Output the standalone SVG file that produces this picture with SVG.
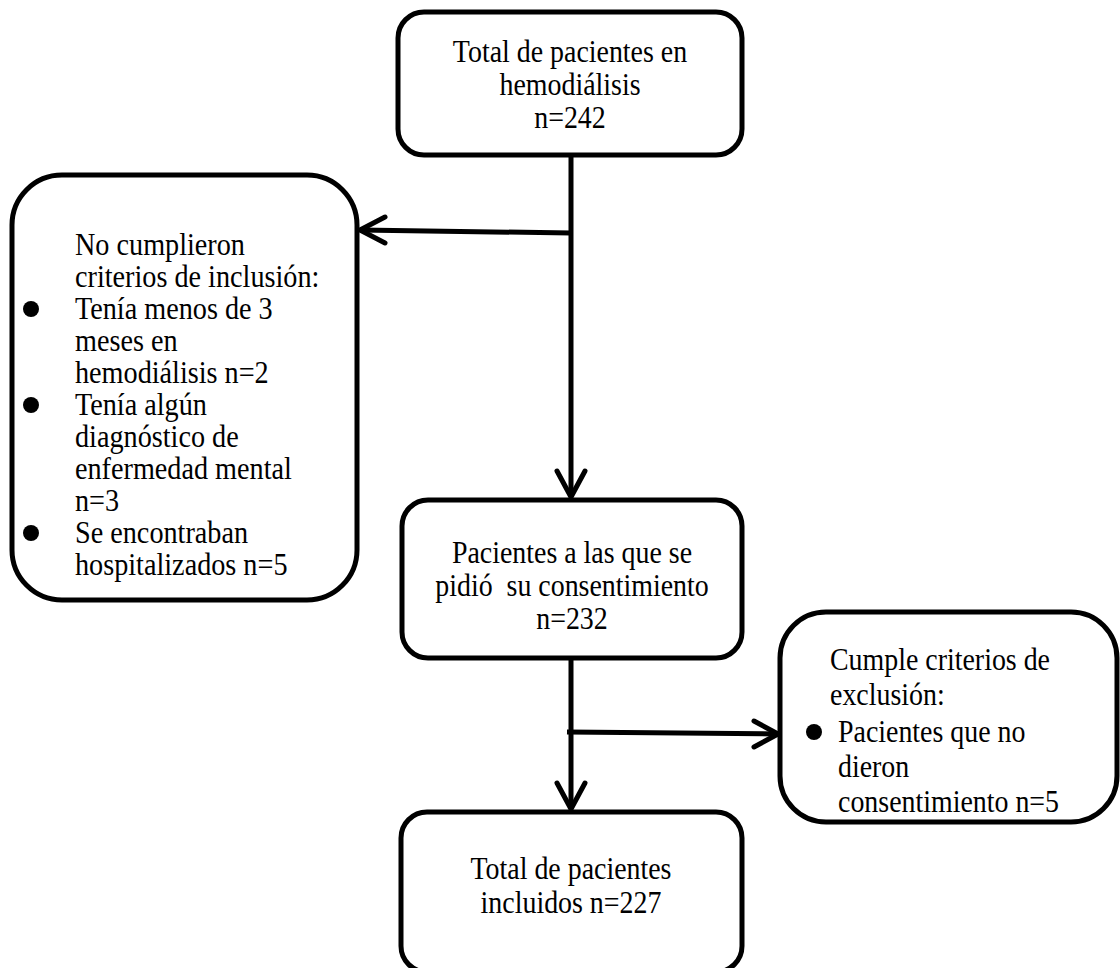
<svg xmlns="http://www.w3.org/2000/svg" width="1120" height="968" viewBox="0 0 1120 968">
<style>
.box{fill:#fff;stroke:#000;stroke-width:5}
.ln{fill:none;stroke:#000;stroke-width:5}
.hd{fill:none;stroke:#000;stroke-width:5;stroke-linecap:round;stroke-linejoin:round}
text{font-family:"Liberation Serif","Times New Roman",serif;font-size:31px;fill:#000}
.c{text-anchor:middle}
</style>
<rect width="1120" height="968" fill="#fff"/>
<g id="connectors">
<line class="ln" x1="571" y1="155" x2="571" y2="497"/>
<polyline class="hd" points="557,471 571,497 585,471"/>
<line class="ln" x1="571" y1="233" x2="360" y2="230"/>
<polyline class="hd" points="385,217 360,230 385,243"/>
<line class="ln" x1="571" y1="658" x2="571" y2="809"/>
<polyline class="hd" points="557,783 571,809 585,783"/>
<line class="ln" x1="567" y1="732" x2="778" y2="734"/>
<polyline class="hd" points="754,721 778,734 754,747"/>
</g>
<g id="n1">
<rect class="box" x="398" y="12" width="344" height="143" rx="26"/>
<g transform="translate(570,0) scale(0.9,1)">
<text class="c" x="0" y="62">Total de pacientes en</text>
<text class="c" x="0" y="95">hemodiálisis</text>
<text class="c" x="0" y="128">n=242</text>
</g>
</g>
<g id="n2">
<rect class="box" x="12" y="175" width="345" height="425" rx="50"/>
<g transform="translate(75,0) scale(0.91,1)">
<text x="0" y="255">No cumplieron</text>
<text x="0" y="287">criterios de inclusión:</text>
<text x="0" y="319">Tenía menos de 3</text>
<text x="0" y="351">meses en</text>
<text x="0" y="383">hemodiálisis n=2</text>
<text x="0" y="415">Tenía algún</text>
<text x="0" y="447">diagnóstico de</text>
<text x="0" y="479">enfermedad mental</text>
<text x="0" y="511">n=3</text>
<text x="0" y="543">Se encontraban</text>
<text x="0" y="575">hospitalizados n=5</text>
</g>
<circle cx="31" cy="309" r="8"/>
<circle cx="31" cy="405" r="8"/>
<circle cx="31" cy="533" r="8"/>
</g>
<g id="n3">
<rect class="box" x="402" y="500" width="340" height="158" rx="26"/>
<g transform="translate(572,0) scale(0.9,1)">
<text class="c" x="0" y="563">Pacientes a las que se</text>
<text class="c" x="0" y="596">pidió&#160; su consentimiento</text>
<text class="c" x="0" y="629">n=232</text>
</g>
</g>
<g id="n4">
<rect class="box" x="780" y="612" width="337" height="210" rx="46"/>
<g transform="translate(830,0) scale(0.9,1)">
<text x="0" y="670">Cumple criterios de</text>
<text x="0" y="705">exclusión:</text>
</g>
<g transform="translate(838,0) scale(0.9,1)">
<text x="0" y="742">Pacientes que no</text>
<text x="0" y="777">dieron</text>
<text x="0" y="812">consentimiento n=5</text>
</g>
<circle cx="814" cy="732" r="8"/>
</g>
<g id="n5">
<rect class="box" x="401" y="812" width="341" height="160" rx="26"/>
<g transform="translate(571,0) scale(0.9,1)">
<text class="c" x="0" y="879">Total de pacientes</text>
<text class="c" x="0" y="913">incluidos n=227</text>
</g>
</g>
</svg>
